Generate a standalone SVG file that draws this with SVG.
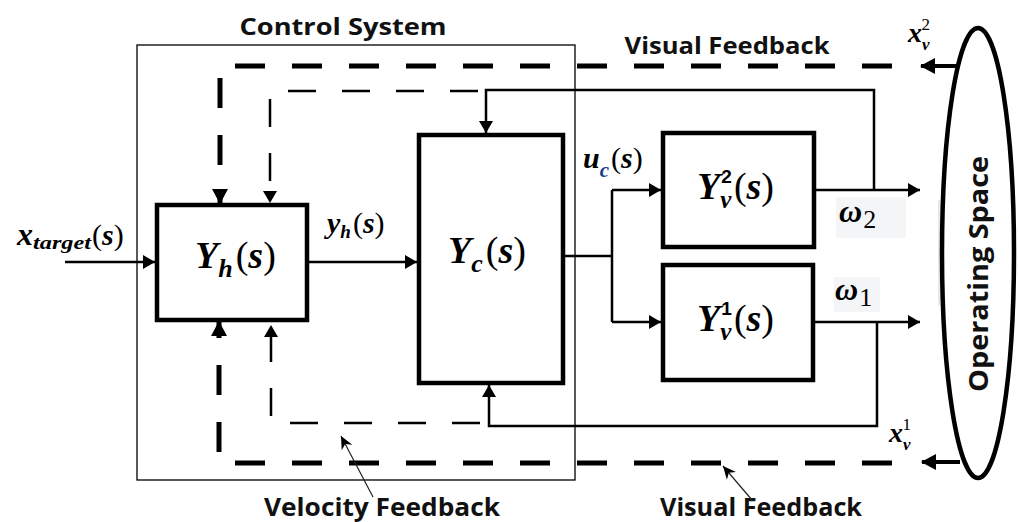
<svg xmlns="http://www.w3.org/2000/svg" width="1018" height="522" viewBox="0 0 1018 522">
<style>
.box{fill:#fff;stroke:#000;stroke-width:4.5}
.ln{fill:none;stroke:#000;stroke-width:2.5}
.thk{fill:none;stroke:#000;stroke-width:5;stroke-dasharray:30 27}
.thn{fill:none;stroke:#000;stroke-width:2.5;stroke-dasharray:28 26}
.ptr{fill:none;stroke:#222;stroke-width:1.2}
.m{font-family:"Liberation Serif",serif;font-weight:bold;font-style:italic;fill:#000}
.p{font-family:"Liberation Serif",serif;font-style:normal;font-weight:normal;fill:#000}
.d{font-family:"Liberation Sans",sans-serif;font-weight:bold;font-style:normal;fill:#000}
.lab{font-family:"Open Sans","Liberation Sans",sans-serif;font-weight:bold;fill:#111}
</style>
<defs>
<marker id="a" markerUnits="userSpaceOnUse" markerWidth="14" markerHeight="14" refX="12" refY="7" orient="auto"><path d="M0,0 L12,7 L0,14 z" fill="#000"/></marker>
<marker id="b" markerUnits="userSpaceOnUse" markerWidth="18" markerHeight="18" refX="14" refY="9" orient="auto"><path d="M0,1 L15,9 L0,17 z" fill="#000"/></marker>
<marker id="c" markerUnits="userSpaceOnUse" markerWidth="14" markerHeight="14" refX="13" refY="7" orient="auto"><path d="M0,1 L13,7 L0,13 L4,7 z" fill="#000"/></marker>
</defs>

<rect x="137" y="45" width="438" height="435" fill="none" stroke="#000" stroke-width="1.3"/>
<text class="lab" x="343" y="35" font-size="24" text-anchor="middle" textLength="207" lengthAdjust="spacingAndGlyphs">Control System</text>
<text class="lab" x="727" y="54" font-size="24" text-anchor="middle" textLength="205" lengthAdjust="spacingAndGlyphs">Visual Feedback</text>
<text class="lab" x="382" y="516" font-size="25" text-anchor="middle" textLength="236" lengthAdjust="spacingAndGlyphs">Velocity Feedback</text>
<text class="lab" x="761" y="516" font-size="25" text-anchor="middle" textLength="202" lengthAdjust="spacingAndGlyphs">Visual Feedback</text>

<g id="connectors">
<path class="ln" d="M65,262 H155" marker-end="url(#a)"/>
<path class="ln" d="M307,262 H417" marker-end="url(#a)"/>
<path class="ln" d="M563,256 H612 M612,190 V322"/>
<path class="ln" d="M612,190 H661" marker-end="url(#a)"/>
<path class="ln" d="M612,322 H661" marker-end="url(#a)"/>
<path class="ln" d="M814,190 H920" marker-end="url(#a)"/>
<path class="ln" d="M813,322 H920" marker-end="url(#a)"/>
<path class="ln" d="M874,190 V90 H486 V133" marker-end="url(#a)"/>
<path class="ln" d="M877,322 V426 H489 V385" marker-end="url(#a)"/>
<path class="thk" d="M892,66 H220 V203" marker-end="url(#b)"/>
<path class="thk" d="M892,463 H219 V322" marker-end="url(#b)"/>
<path class="thn" d="M478,91 H270 V203" marker-end="url(#a)"/>
<path class="thn" d="M480,423 H271 V325" marker-end="url(#a)"/>
<path fill="none" stroke="#000" stroke-width="4" d="M958,66 H921" marker-end="url(#b)"/>
<path fill="none" stroke="#000" stroke-width="4" d="M960,462 H922" marker-end="url(#b)"/>
<path class="ptr" d="M373,497 L341,436" marker-end="url(#c)"/>
<path class="ptr" d="M752,500 L723,466" marker-end="url(#c)"/>
</g>

<line x1="939" y1="200" x2="939" y2="305" stroke="#d0d0d0" stroke-width="1"/>

<g id="Yh">
<rect class="box" x="157" y="205" width="150" height="115"/>
<text class="m" x="195" y="268" font-size="38">Y<tspan font-size="26" dy="9">h</tspan><tspan class="p" font-size="38" dy="-9" dx="3">(</tspan><tspan font-size="38">s</tspan><tspan class="p" font-size="38">)</tspan></text>
</g>

<g id="Yc">
<rect class="box" x="419" y="135" width="144" height="248"/>
<text class="m" x="448" y="263" font-size="38">Y<tspan font-size="26" dy="9">c</tspan><tspan class="p" font-size="38" dy="-9" dx="3">(</tspan><tspan font-size="38">s</tspan><tspan class="p" font-size="38">)</tspan></text>
</g>

<g id="Yv2">
<rect class="box" x="663" y="133" width="151" height="114"/>
<text class="m" x="697" y="199" font-size="38">Y<tspan font-size="25" dy="9">v</tspan><tspan class="d" font-size="19" dx="-10" dy="-25">2</tspan><tspan class="p" font-size="38" dy="16" dx="2">(</tspan><tspan font-size="38">s</tspan><tspan class="p" font-size="38">)</tspan></text>
</g>

<g id="Yv1">
<rect class="box" x="663" y="265" width="150" height="115"/>
<text class="m" x="697" y="331" font-size="38">Y<tspan font-size="25" dy="9">v</tspan><tspan class="d" font-size="19" dx="-10" dy="-25">1</tspan><tspan class="p" font-size="38" dy="16" dx="2">(</tspan><tspan font-size="38">s</tspan><tspan class="p" font-size="38">)</tspan></text>
</g>

<g id="OperatingSpace">
<ellipse cx="978" cy="253" rx="36" ry="225" fill="none" stroke="#000" stroke-width="4.5"/>
<text class="lab" x="0" y="0" font-size="26" fill="#111122" text-anchor="middle" transform="translate(988,274) rotate(-90)" textLength="236" lengthAdjust="spacingAndGlyphs">Operating Space</text>
</g>

<g id="labels">
<text class="m" x="17" y="245" font-size="32">x<tspan font-size="19" dy="4" textLength="58" lengthAdjust="spacingAndGlyphs">target</tspan><tspan class="p" font-size="30" dy="-4" dx="1">(</tspan><tspan font-size="30">s</tspan><tspan class="p" font-size="30">)</tspan></text>

<text class="m" x="327" y="233" font-size="30">y<tspan font-size="19" dy="5">h</tspan><tspan class="p" font-size="30" dy="-5" dx="2">(</tspan><tspan font-size="30">s</tspan><tspan class="p" font-size="30">)</tspan></text>

<text class="m" x="583" y="168" font-size="30">u<tspan font-size="21" dy="9" fill="#1a3d8f">c</tspan><tspan class="p" font-size="30" dy="-9" dx="2">(</tspan><tspan font-size="30">s</tspan><tspan class="p" font-size="30">)</tspan></text>

<rect x="836" y="197" width="70" height="41" fill="#f4f5f7"/>
<text class="m" x="839" y="222" font-size="32">ω<tspan class="p" font-size="26" dy="6" dx="1">2</tspan></text>
<rect x="834" y="277" width="46" height="35" fill="#f4f5f7"/>
<text class="m" x="835" y="300" font-size="32">ω<tspan class="p" font-size="26" dy="6" dx="1">1</tspan></text>

<text class="m" x="908" y="42" font-size="28">x<tspan font-size="17" dy="8">v</tspan><tspan class="p" font-size="17" dx="-8" dy="-20">2</tspan></text>
<text class="m" x="889" y="442" font-size="28">x<tspan font-size="17" dy="8">v</tspan><tspan class="p" font-size="17" dx="-8" dy="-20">1</tspan></text>
</g>
</svg>
